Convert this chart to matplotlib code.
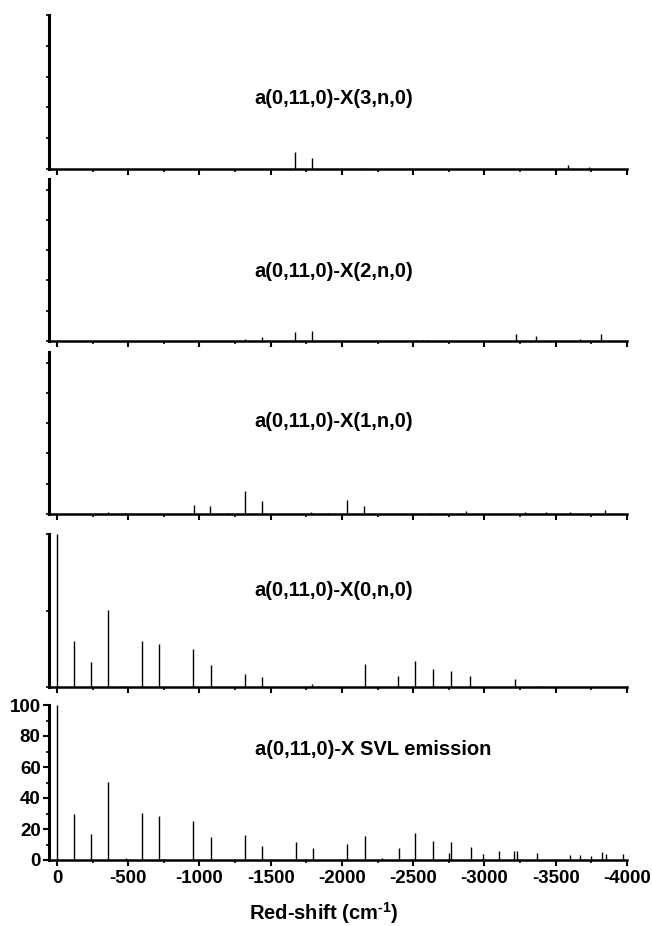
import matplotlib
matplotlib.use("Agg")
import matplotlib.pyplot as plt
from matplotlib.ticker import MultipleLocator, FixedLocator, FuncFormatter

plt.rcParams['font.family'] = ['Liberation Sans', 'DejaVu Sans']
plt.rcParams['font.weight'] = 'bold'
plt.rcParams['axes.unicode_minus'] = False
plt.rcParams['mathtext.fontset'] = 'custom'
plt.rcParams['mathtext.rm'] = 'Liberation Sans:bold'
plt.rcParams['mathtext.bf'] = 'Liberation Sans:bold'
plt.rcParams['mathtext.default'] = 'bf'

# ---- data (red-shift in cm-1, relative intensity) ----
x3_pos = [-1673, -1787, -2141, -2470, -3586, -3733]
x3_int = [11.3, 7.4, 0.8, 0.5, 2.8, 1.2]

x2_pos = [-1319, -1436, -1673, -1792, -1915, -2520, -2560, -2600,
          -3224, -3360, -3669, -3816]
x2_int = [1.5, 2.6, 6.0, 6.3, 0.6, 0.4, 0.4, 0.4, 4.8, 3.2, 1.5, 4.3]

x1_pos = [-360, -480, -720, -959, -1076, -1200, -1316, -1436, -1785,
          -1900, -2038, -2153, -2621, -2867, -3281, -3433, -3598, -3848]
x1_int = [1.0, 0.7, 0.5, 6.0, 5.0, 0.5, 14.9, 8.7, 1.6, 0.5, 9.3, 5.3,
          0.7, 1.8, 1.0, 1.0, 1.3, 2.7]

x0_pos = [0, -118, -237, -358, -480, -596, -715, -956, -1078, -1319,
          -1436, -1793, -2158, -2393, -2512, -2636, -2764, -2900, -3211, -3375]
x0_int = [100, 30, 16.4, 50.2, 0.8, 30.1, 28, 25.1, 14.6, 8.3, 6.6, 2.2,
          15.3, 7.4, 17, 12, 10.7, 7.4, 5, 0.9]

svl_pos = [0, -119, -237, -358, -484, -596, -715, -956, -1078, -1319,
           -1440, -1679, -1798, -2038, -2158, -2280, -2400, -2515, -2638,
           -2750, -2767, -2906, -2988, -3105, -3210, -3230, -3368, -3598,
           -3672, -3745, -3827, -3856, -3972]
svl_int = [100, 30, 16.7, 50.4, 1, 30.4, 28.7, 25.4, 15, 15.9, 9.1, 11.5,
           7.6, 10.4, 15.7, 1, 7.6, 17.4, 12.2, 4.3, 11.3, 8.3, 3.7, 5.7,
           6.1, 6, 4.8, 3.3, 3, 2.6, 5.4, 3.9, 3.7]

labels = ["a(0,11,0)-X(3,n,0)", "a(0,11,0)-X(2,n,0)", "a(0,11,0)-X(1,n,0)",
          "a(0,11,0)-X(0,n,0)", "a(0,11,0)-X SVL emission"]
x_ticks = [0, -500, -1000, -1500, -2000, -2500, -3000, -3500, -4000]
y_ticks_svl = [0, 20, 40, 60, 80, 100]

panels = [(x3_pos, x3_int), (x2_pos, x2_int), (x1_pos, x1_int),
          (x0_pos, x0_int), (svl_pos, svl_int)]

W, H = 652, 926
fig = plt.figure(figsize=(W / 100, H / 100), dpi=100)

# pixel geometry: (top, bottom) for each panel
rows = [(15, 169), (179, 341), (352, 514), (534, 687), (705, 860)]
ytops = [100, 107, 107, 100, 100]
yt_steps = [20, 20, 20, 50, 20]
label_y = [0.46, 0.43, 0.57, 0.63, 0.71]
left_px, right_px = 49, 627

for i, ((pos, inten), (t, b)) in enumerate(zip(panels, rows)):
    ax = fig.add_axes([left_px / W, 1 - b / H, (right_px - left_px) / W, (b - t) / H])
    ax.vlines(pos, 0, inten, colors='black', linewidth=1.0, zorder=1)
    ax.set_xlim(56, -4000)
    ax.set_ylim(0, ytops[i])
    for s in ['top', 'right']:
        ax.spines[s].set_visible(False)
    ax.spines['left'].set_linewidth(2.2)
    ax.spines['bottom'].set_linewidth(1.8)
    ax.xaxis.set_major_locator(FixedLocator(x_ticks))
    ax.xaxis.set_minor_locator(MultipleLocator(250))
    ax.tick_params(axis='x', which='major', direction='out', length=4, width=1.5)
    ax.tick_params(axis='x', which='minor', direction='out', length=2.5, width=1.2)
    ax.yaxis.set_major_locator(MultipleLocator(yt_steps[i]))
    if i < 4:
        ax.tick_params(axis='x', labelbottom=False)
        ax.tick_params(axis='y', which='major', direction='out', length=2, width=1.2,
                       labelleft=False)
        ax.set_yticks([v for v in range(0, 101, yt_steps[i])])
    else:
        ax.yaxis.set_minor_locator(MultipleLocator(10))
        ax.tick_params(axis='y', which='major', direction='out', length=4, width=1.5,
                       labelsize=13.5, pad=2)
        ax.tick_params(axis='y', which='minor', direction='out', length=2.5, width=1.2)
        ax.set_yticks(y_ticks_svl)
        ax.tick_params(axis='x', labelsize=13.5, pad=3)
        ax.xaxis.set_major_formatter(FuncFormatter(lambda v, p: "%d" % v))
        ax.set_xlabel(r"Red-shift (cm$^{\text{-1}}$)", fontsize=14.5, fontweight='bold')
        ax.xaxis.set_label_coords((324 - left_px) / (right_px - left_px),
                                  -(900 - b) / (b - t))
    ax.text(0.356, label_y[i], labels[i], transform=ax.transAxes, ha='left',
            va='center', fontsize=14.5, fontweight='bold')

fig.savefig("out.png", dpi=100)
